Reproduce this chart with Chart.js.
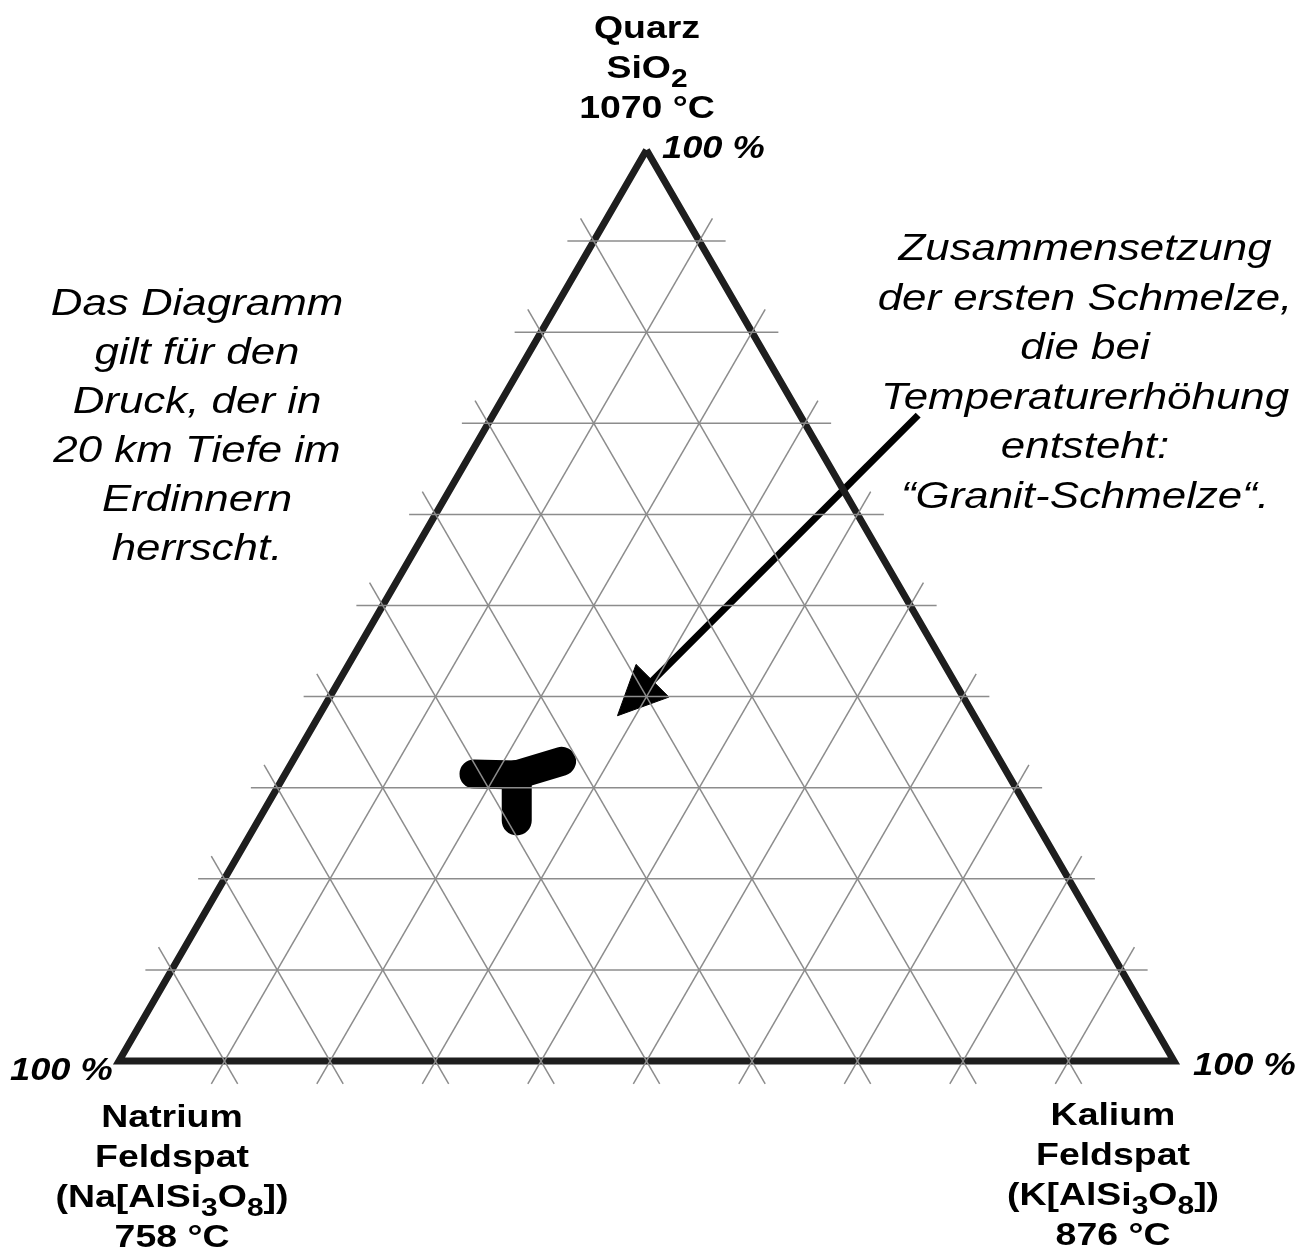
<!DOCTYPE html>
<html lang="de">
<head>
<meta charset="utf-8">
<title>Quarz - Natrium-Feldspat - Kalium-Feldspat</title>
<script src="https://cdn.jsdelivr.net/npm/chart.js@4.4.0/dist/chart.umd.min.js"></script>
<style>
  html, body { margin: 0; padding: 0; background: #fff; }
  #wrap { width: 1315px; height: 1252px; }
</style>
</head>
<body>
<div id="wrap"><canvas id="grafico"></canvas></div>
<script>
// Gitterlinien alle 10 %
const gitterStufen = [0.1, 0.2, 0.3, 0.4, 0.5, 0.6, 0.7, 0.8, 0.9];

// Zusammensetzungen immer als [Quarz, Na-Feldspat, K-Feldspat]
const ecken = [[1, 0, 0], [0, 1, 0], [0, 0, 1]];

// "Y" der ersten Schmelze: Mitte und die drei Arme
const schmelzeMitte = [0.314, 0.466, 0.220];
const schmelzeLinks = [0.315, 0.506, 0.179];
const schmelzeRechts = [0.329, 0.416, 0.255];
const schmelzeUnten = [0.264, 0.491, 0.245];

// Pfeil vom Text zur Schmelze
const pfeilAnfang = [0.709, -0.112, 0.403];
const pfeilSpitze = [0.379, 0.338, 0.283];

const textoLinks = ["Das Diagramm", "gilt für den", "Druck, der in", "20 km Tiefe im", "Erdinnern", "herrscht."];
const textoRechts = ["Zusammensetzung", "der ersten Schmelze,", "die bei", "Temperaturerhöhung", "entsteht:", "\u201CGranit-Schmelze\u201C."];

const rotuloQuarz = [[["Quarz"]], [["SiO"], ["2", true]], [["1070 °C"]]];
const rotuloNatrium = [[["Natrium"]], [["Feldspat"]], [["(Na[AlSi"], ["3", true], ["O"], ["8", true], ["])"]], [["758 °C"]]];
const rotuloKalium = [[["Kalium"]], [["Feldspat"]], [["(K[AlSi"], ["3", true], ["O"], ["8", true], ["])"]], [["876 °C"]]];

const H = Math.sqrt(3) / 2;
const EXT = 0.025;

function xy(c) {
  return { x: c[2] + c[0] / 2, y: c[0] * H };
}

function linhaEstendida(a, b) {
  const p = xy(a), q = xy(b);
  const dx = q.x - p.x, dy = q.y - p.y;
  const len = Math.hypot(dx, dy);
  const ux = dx / len * EXT, uy = dy / len * EXT;
  return [{ x: p.x - ux, y: p.y - uy }, { x: q.x + ux, y: q.y + uy }];
}

const datasets = [];

// Gitter
gitterStufen.forEach(c => {
  [[[c, 1 - c, 0], [c, 0, 1 - c]],
   [[0, c, 1 - c], [1 - c, c, 0]],
   [[0, 1 - c, c], [1 - c, 0, c]]].forEach(([a, b]) => {
    datasets.push({
      data: linhaEstendida(a, b),
      borderColor: "#8c8c8c",
      borderWidth: 1.5
    });
  });
});

// Dreieck
datasets.push({
  data: [...ecken, ecken[0]].map(xy),
  borderColor: "#1e1e1e",
  borderWidth: 7,
  borderJoinStyle: "miter"
});

// Schmelze
datasets.push({
  data: [schmelzeLinks, schmelzeMitte, schmelzeRechts].map(xy),
  borderColor: "#000",
  borderWidth: 29,
  borderCapStyle: "round",
  borderJoinStyle: "round"
});
datasets.push({
  data: [schmelzeMitte, schmelzeUnten].map(xy),
  borderColor: "#000",
  borderWidth: 30,
  borderCapStyle: "round"
});

// Pfeil
const pA = xy(pfeilAnfang), pS = xy(pfeilSpitze);
const dLen = Math.hypot(pA.x - pS.x, pA.y - pS.y);
const ux = (pA.x - pS.x) / dLen, uy = (pA.y - pS.y) / dLen;
const kopfL = 0.047, kopfB = 0.022;
const kopfBasis = { x: pS.x + ux * kopfL, y: pS.y + uy * kopfL };
datasets.push({
  data: [pA, { x: pS.x + ux * kopfL * 0.6, y: pS.y + uy * kopfL * 0.6 }],
  borderColor: "#000",
  borderWidth: 7
});
datasets.push({
  data: [
    pS,
    { x: kopfBasis.x - uy * kopfB, y: kopfBasis.y + ux * kopfB },
    { x: kopfBasis.x + uy * kopfB, y: kopfBasis.y - ux * kopfB },
    pS
  ],
  borderColor: "#000",
  backgroundColor: "#000",
  borderWidth: 1,
  fill: "shape"
});

datasets.forEach(d => {
  d.pointRadius = 0;
  d.pointHoverRadius = 0;
  d.clip = false;
  d.tension = 0;
  if (d.fill === undefined) d.fill = false;
});

const FONTE = '"Liberation Sans", Arial, sans-serif';
const ESTICA = 1.17;

function escrever(ctx, partes, cx, y, tam, estilo, alinhar) {
  let larg = 0;
  partes.forEach(([t, sub]) => {
    ctx.font = `${estilo} ${sub ? tam * 0.8 : tam}px ${FONTE}`;
    larg += ctx.measureText(t).width;
  });
  ctx.save();
  ctx.translate(cx, y);
  ctx.scale(ESTICA, 1);
  let x = alinhar === "left" ? 0 : -larg / 2;
  ctx.textAlign = "left";
  ctx.textBaseline = "alphabetic";
  ctx.fillStyle = "#000";
  partes.forEach(([t, sub]) => {
    ctx.font = `${estilo} ${sub ? tam * 0.8 : tam}px ${FONTE}`;
    ctx.fillText(t, x, sub ? 9 : 0);
    x += ctx.measureText(t).width;
  });
  ctx.restore();
}

const textos = {
  id: "textos",
  afterDraw(chart) {
    const ctx = chart.ctx;

    rotuloQuarz.forEach((l, i) => escrever(ctx, l, 647, 38 + i * 40, 32, "bold"));
    rotuloNatrium.forEach((l, i) => escrever(ctx, l, 172, 1127 + i * 40, 32, "bold"));
    rotuloKalium.forEach((l, i) => escrever(ctx, l, 1113, 1125 + i * 40, 32, "bold"));

    escrever(ctx, [["100 %"]], 662, 158, 31, "italic bold", "left");
    escrever(ctx, [["100 %"]], 10, 1080, 31, "italic bold", "left");
    escrever(ctx, [["100 %"]], 1193, 1075, 31, "italic bold", "left");

    textoLinks.forEach((t, i) => escrever(ctx, [[t]], 197, 315 + i * 49, 37.5, "italic"));
    textoRechts.forEach((t, i) => escrever(ctx, [[t]], 1085, 260 + i * 49.6, 37.5, "italic"));
  }
};

new Chart(document.getElementById("grafico"), {
  type: "line",
  data: { datasets },
  options: {
    responsive: true,
    maintainAspectRatio: false,
    animation: false,
    events: [],
    layout: { padding: { left: 119, right: 141, top: 150, bottom: 191 } },
    scales: {
      x: { type: "linear", display: false, min: 0, max: 1 },
      y: { type: "linear", display: false, min: 0, max: H }
    },
    plugins: {
      legend: { display: false },
      tooltip: { enabled: false }
    }
  },
  plugins: [textos]
});
</script>
</body>
</html>
